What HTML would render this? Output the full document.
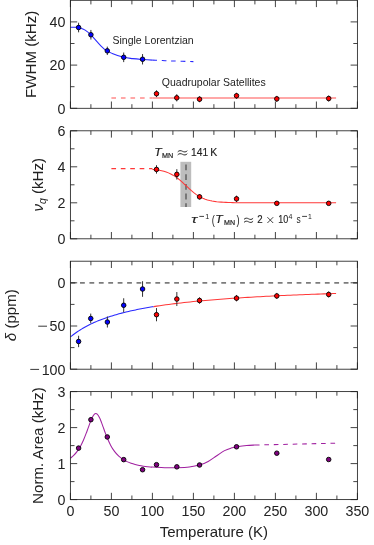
<!DOCTYPE html>
<html><head><meta charset="utf-8"><title>chart</title>
<style>html,body{margin:0;padding:0;background:#fff;}body{width:374px;height:545px;overflow:hidden;font-family:"Liberation Sans",sans-serif;}svg{display:block;}</style></head>
<body>
<svg width="374" height="545" viewBox="0 0 374 545">
<rect width="374" height="545" fill="#fff"/>
<g opacity="0.999">
<path d="M70.4 27.3C71.22 27.3 73.68 27.19 75.32 27.3C76.96 27.41 78.6 27.48 80.24 27.95C81.88 28.42 83.38 28.96 85.16 30.11C86.94 31.26 88.85 32.84 90.9 34.86C92.95 36.88 95.14 39.76 97.46 42.2C99.78 44.65 102.38 47.68 104.84 49.55C107.3 51.42 109.08 52.14 112.22 53.44C115.36 54.73 120.28 56.46 123.7 57.32C127.12 58.19 129.58 58.26 132.72 58.62C135.86 58.98 139.28 59.23 142.56 59.48C145.84 59.74 149.12 59.95 152.4 60.13" stroke="#2828ff" stroke-width="1.05" fill="none"/>
<path d="M152.4 60.13C155.68 60.31 158.82 60.42 162.24 60.56C165.66 60.71 167.71 60.82 172.9 61C178.09 61.18 189.98 61.54 193.4 61.64" stroke="#2828ff" stroke-width="1.05" fill="none" stroke-dasharray="4.65 4.77"/>
<path d="M111.4 97.89H152.4" stroke="#ff8a8a" stroke-width="1.5" fill="none" stroke-dasharray="4.6 4.95"/>
<path d="M152.4 97.89H336.08" stroke="#ff8a8a" stroke-width="1.5" fill="none"/>
<path d="M78.6 22.72V32.32M90.9 29.95V39.55M107.3 46.64V55.04M123.7 52.52V62.12M142.56 54.07V64.47" stroke="#333" stroke-width="1" fill="none"/>
<circle cx="78.6" cy="27.52" r="2.28" fill="#0000ff" stroke="#000" stroke-width="0.9"/>
<circle cx="90.9" cy="34.75" r="2.28" fill="#0000ff" stroke="#000" stroke-width="0.9"/>
<circle cx="107.3" cy="50.84" r="2.28" fill="#0000ff" stroke="#000" stroke-width="0.9"/>
<circle cx="123.7" cy="57.32" r="2.28" fill="#0000ff" stroke="#000" stroke-width="0.9"/>
<circle cx="142.56" cy="59.27" r="2.28" fill="#0000ff" stroke="#000" stroke-width="0.9"/>
<path d="M156.5 90.32V97.12M176.75 94.22V101.42M199.55 96.23V102.23M236.53 92.77V98.77M276.79 95.86V101.86M328.7 95.52V101.52" stroke="#333" stroke-width="1" fill="none"/>
<circle cx="156.5" cy="93.72" r="2.28" fill="#ff0000" stroke="#000" stroke-width="0.9"/>
<circle cx="176.75" cy="97.82" r="2.28" fill="#ff0000" stroke="#000" stroke-width="0.9"/>
<circle cx="199.55" cy="99.23" r="2.28" fill="#ff0000" stroke="#000" stroke-width="0.9"/>
<circle cx="236.53" cy="95.77" r="2.28" fill="#ff0000" stroke="#000" stroke-width="0.9"/>
<circle cx="276.79" cy="98.86" r="2.28" fill="#ff0000" stroke="#000" stroke-width="0.9"/>
<circle cx="328.7" cy="98.52" r="2.28" fill="#ff0000" stroke="#000" stroke-width="0.9"/>
<rect x="70.4" y="0.3" width="287" height="108" fill="none" stroke="#222222" stroke-width="0.85"/>
<path d="M70.4 108.3v-6.8M70.4 0.3v6.8M90.9 108.3v-4.1M90.9 0.3v4.1M111.4 108.3v-6.8M111.4 0.3v6.8M131.9 108.3v-4.1M131.9 0.3v4.1M152.4 108.3v-6.8M152.4 0.3v6.8M172.9 108.3v-4.1M172.9 0.3v4.1M193.4 108.3v-6.8M193.4 0.3v6.8M213.9 108.3v-4.1M213.9 0.3v4.1M234.4 108.3v-6.8M234.4 0.3v6.8M254.9 108.3v-4.1M254.9 0.3v4.1M275.4 108.3v-6.8M275.4 0.3v6.8M295.9 108.3v-4.1M295.9 0.3v4.1M316.4 108.3v-6.8M316.4 0.3v6.8M336.9 108.3v-4.1M336.9 0.3v4.1M357.4 108.3v-6.8M357.4 0.3v6.8M70.4 108.3h6.8M357.4 108.3h-6.8M70.4 65.1h6.8M357.4 65.1h-6.8M70.4 21.9h6.8M357.4 21.9h-6.8M70.4 86.7h4.1M357.4 86.7h-4.1M70.4 43.5h4.1M357.4 43.5h-4.1" stroke="#222222" stroke-width="0.85" fill="none"/>
<text transform="translate(65.5 113.65) scale(0.94 1)" text-anchor="end" font-size="15.2" font-family="Liberation Sans, sans-serif" fill="#222222">0</text>
<text transform="translate(65.5 70.45) scale(0.94 1)" text-anchor="end" font-size="15.2" font-family="Liberation Sans, sans-serif" fill="#222222">20</text>
<text transform="translate(65.5 27.25) scale(0.94 1)" text-anchor="end" font-size="15.2" font-family="Liberation Sans, sans-serif" fill="#222222">40</text>
<text transform="translate(36 54.3) rotate(-90)" text-anchor="middle" font-size="15.1" font-family="Liberation Sans, sans-serif" fill="#222222">FWHM (kHz)</text>
<text x="112.5" y="43.6" font-size="10.5" font-family="Liberation Sans, sans-serif" fill="#222222">Single Lorentzian</text>
<text x="161.8" y="85.9" font-size="10.5" font-family="Liberation Sans, sans-serif" fill="#222222">Quadrupolar Satellites</text>
<rect x="180.4" y="161.8" width="10.8" height="45.2" fill="#bdbdbd"/>
<path d="M186 164.5V207" stroke="#606060" stroke-width="1.5" fill="none" stroke-dasharray="5.8 3.9"/>
<path d="M111.4 168.6H152.4" stroke="#ff3838" stroke-width="1.05" fill="none" stroke-dasharray="4.65 4.77"/>
<path d="M152.4 169.4L154.7 169.63L156.99 169.92L159.29 170.28L161.58 170.74L163.88 171.31L166.18 172.01L168.47 172.88L170.77 173.92L173.06 175.17L175.36 176.63L177.66 178.29L179.95 180.16L182.25 182.18L184.54 184.3L186.84 186.48L189.14 188.62L191.43 190.68L193.73 192.59L196.02 194.32L198.32 195.84L200.62 197.14L202.91 198.24L205.21 199.16L207.5 199.91L209.8 200.51L212.1 201L214.39 201.39L216.69 201.7L218.98 201.94L221.28 202.13L223.58 202.28L225.87 202.39L228.17 202.48L230.46 202.55L232.76 202.61L235.06 202.65L237.35 202.68L239.65 202.71L241.94 202.73L244.24 202.75L246.54 202.76L248.83 202.77L251.13 202.77L253.42 202.78L255.72 202.78L258.02 202.79L260.31 202.79L262.61 202.79L264.9 202.79L267.2 202.8L269.5 202.8L271.79 202.8L274.09 202.8L276.38 202.8L278.68 202.8L280.98 202.8L283.27 202.8L285.57 202.8L287.86 202.8L290.16 202.8L292.46 202.8L294.75 202.8L297.05 202.8L299.34 202.8L301.64 202.8L303.94 202.8L306.23 202.8L308.53 202.8L310.82 202.8L313.12 202.8L315.42 202.8L317.71 202.8L320.01 202.8L322.3 202.8L324.6 202.8L326.9 202.8L329.19 202.8L331.49 202.8L333.78 202.8L336.08 202.8" stroke="#ff3838" stroke-width="1.05" fill="none"/>
<path d="M156.5 165.21V173.61M176.84 169.16V179.56M199.55 194.26V199.46M236.53 195.64V202.04" stroke="#333" stroke-width="1" fill="none"/>
<circle cx="156.5" cy="169.41" r="2.28" fill="#ff0000" stroke="#000" stroke-width="0.9"/>
<circle cx="176.84" cy="174.36" r="2.28" fill="#ff0000" stroke="#000" stroke-width="0.9"/>
<circle cx="199.55" cy="196.86" r="2.28" fill="#ff0000" stroke="#000" stroke-width="0.9"/>
<circle cx="236.53" cy="198.84" r="2.28" fill="#ff0000" stroke="#000" stroke-width="0.9"/>
<circle cx="276.79" cy="203.34" r="2.28" fill="#ff0000" stroke="#000" stroke-width="0.9"/>
<circle cx="328.7" cy="203.34" r="2.28" fill="#ff0000" stroke="#000" stroke-width="0.9"/>
<rect x="70.4" y="130.8" width="287" height="108" fill="none" stroke="#222222" stroke-width="0.85"/>
<path d="M70.4 238.8v-6.8M70.4 130.8v6.8M90.9 238.8v-4.1M90.9 130.8v4.1M111.4 238.8v-6.8M111.4 130.8v6.8M131.9 238.8v-4.1M131.9 130.8v4.1M152.4 238.8v-6.8M152.4 130.8v6.8M172.9 238.8v-4.1M172.9 130.8v4.1M193.4 238.8v-6.8M193.4 130.8v6.8M213.9 238.8v-4.1M213.9 130.8v4.1M234.4 238.8v-6.8M234.4 130.8v6.8M254.9 238.8v-4.1M254.9 130.8v4.1M275.4 238.8v-6.8M275.4 130.8v6.8M295.9 238.8v-4.1M295.9 130.8v4.1M316.4 238.8v-6.8M316.4 130.8v6.8M336.9 238.8v-4.1M336.9 130.8v4.1M357.4 238.8v-6.8M357.4 130.8v6.8M70.4 238.8h6.8M357.4 238.8h-6.8M70.4 202.8h6.8M357.4 202.8h-6.8M70.4 166.8h6.8M357.4 166.8h-6.8M70.4 130.8h6.8M357.4 130.8h-6.8M70.4 220.8h4.1M357.4 220.8h-4.1M70.4 184.8h4.1M357.4 184.8h-4.1M70.4 148.8h4.1M357.4 148.8h-4.1" stroke="#222222" stroke-width="0.85" fill="none"/>
<text transform="translate(65.5 244.15) scale(0.94 1)" text-anchor="end" font-size="15.2" font-family="Liberation Sans, sans-serif" fill="#222222">0</text>
<text transform="translate(65.5 208.15) scale(0.94 1)" text-anchor="end" font-size="15.2" font-family="Liberation Sans, sans-serif" fill="#222222">2</text>
<text transform="translate(65.5 172.15) scale(0.94 1)" text-anchor="end" font-size="15.2" font-family="Liberation Sans, sans-serif" fill="#222222">4</text>
<text transform="translate(65.5 136.15) scale(0.94 1)" text-anchor="end" font-size="15.2" font-family="Liberation Sans, sans-serif" fill="#222222">6</text>
<text transform="translate(42.7 184.8) rotate(-90)" text-anchor="middle" font-size="15.1" font-family="Liberation Sans, sans-serif" fill="#222222"><tspan font-style="italic">&#957;</tspan><tspan font-style="italic" font-size="10.5" dy="3">q</tspan><tspan dy="-3"> (kHz)</tspan></text>
<text x="154.2" y="155.8" font-size="11.3" font-family="Liberation Sans, sans-serif" fill="#222222" stroke="#222222" stroke-width="0.22" textLength="7.4" lengthAdjust="spacingAndGlyphs" font-style="italic">T</text>
<text x="161.9" y="157.5" font-size="8.0" font-family="Liberation Sans, sans-serif" fill="#222222" stroke="#222222" stroke-width="0.22" textLength="11.2" lengthAdjust="spacingAndGlyphs">MN</text>
<path d="M177.7 151.9C179.04 150.25 180.96 150.45 182.5 151.3S185.96 152.35 187.3 150.7M177.7 154.9C179.04 153.25 180.96 153.45 182.5 154.3S185.96 155.35 187.3 153.7" stroke="#222222" stroke-width="0.95" fill="none"/>
<text x="191.1" y="155.8" font-size="11.2" font-family="Liberation Sans, sans-serif" fill="#222222" stroke="#222222" stroke-width="0.15" textLength="17.1" lengthAdjust="spacingAndGlyphs">141</text>
<text x="210.2" y="155.8" font-size="11.2" font-family="Liberation Sans, sans-serif" fill="#222222" stroke="#222222" stroke-width="0.15" textLength="7" lengthAdjust="spacingAndGlyphs">K</text>
<text x="191.3" y="223.3" font-size="10.2" font-family="Liberation Sans, sans-serif" fill="#222222" stroke="#222222" stroke-width="0.12" textLength="6" lengthAdjust="spacingAndGlyphs" font-style="italic">&#964;</text>
<path d="M199.3 216.4H204" stroke="#222222" stroke-width="0.85" fill="none"/>
<text x="205.2" y="219.3" font-size="7.8" font-family="Liberation Sans, sans-serif" fill="#222222" textLength="4" lengthAdjust="spacingAndGlyphs">1</text>
<text x="211.7" y="223.6" font-size="12.2" font-family="Liberation Sans, sans-serif" fill="#222222" textLength="3.1" lengthAdjust="spacingAndGlyphs">(</text>
<text x="215.3" y="223.3" font-size="11.3" font-family="Liberation Sans, sans-serif" fill="#222222" stroke="#222222" stroke-width="0.22" textLength="7.4" lengthAdjust="spacingAndGlyphs" font-style="italic">T</text>
<text x="224" y="224.9" font-size="8.0" font-family="Liberation Sans, sans-serif" fill="#222222" stroke="#222222" stroke-width="0.22" textLength="11" lengthAdjust="spacingAndGlyphs">MN</text>
<text x="236.5" y="223.6" font-size="12.2" font-family="Liberation Sans, sans-serif" fill="#222222" textLength="3.1" lengthAdjust="spacingAndGlyphs">)</text>
<path d="M244 219.4C245.27 217.75 247.09 217.95 248.55 218.8S251.83 219.85 253.1 218.2M244 222.4C245.27 220.75 247.09 220.95 248.55 221.8S251.83 222.85 253.1 221.2" stroke="#222222" stroke-width="0.95" fill="none"/>
<text x="257.3" y="223.3" font-size="11.2" font-family="Liberation Sans, sans-serif" fill="#222222" stroke="#222222" stroke-width="0.15" textLength="5.4" lengthAdjust="spacingAndGlyphs">2</text>
<path d="M267.4 217.2L273.2 223M273.2 217.2L267.4 223" stroke="#222222" stroke-width="0.85" fill="none"/>
<text x="278.2" y="223.3" font-size="11.2" font-family="Liberation Sans, sans-serif" fill="#222222" stroke="#222222" stroke-width="0.15" textLength="10" lengthAdjust="spacingAndGlyphs">10</text>
<text x="288.4" y="218.7" font-size="8.0" font-family="Liberation Sans, sans-serif" fill="#222222" textLength="3.9" lengthAdjust="spacingAndGlyphs">4</text>
<text x="296.6" y="223.3" font-size="10.2" font-family="Liberation Sans, sans-serif" fill="#222222" textLength="4.2" lengthAdjust="spacingAndGlyphs">s</text>
<path d="M302.1 216.4H307" stroke="#222222" stroke-width="0.85" fill="none"/>
<text x="308" y="218.8" font-size="8.0" font-family="Liberation Sans, sans-serif" fill="#222222" textLength="3.8" lengthAdjust="spacingAndGlyphs">1</text>
<path d="M70.6 282.9H357.4" stroke="#7c7c7c" stroke-width="1.75" fill="none" stroke-dasharray="4.8 4.617"/>
<path d="M70.4 336.96L71.79 335.84L73.17 334.75L74.56 333.72L75.95 332.72L77.34 331.76L78.72 330.84L80.11 329.95L81.5 329.09L82.88 328.27L84.27 327.47L85.66 326.7L87.05 325.96L88.43 325.24L89.82 324.54L91.21 323.87L92.59 323.22L93.98 322.59L95.37 321.98L96.76 321.38L98.14 320.81L99.53 320.25L100.92 319.71L102.3 319.18L103.69 318.67L105.08 318.17L106.47 317.69L107.85 317.22L109.24 316.76L110.63 316.31L112.02 315.88L113.4 315.45L114.79 315.04L116.18 314.64L117.56 314.24L118.95 313.86L120.34 313.49L121.73 313.12L123.11 312.76L124.5 312.42L125.89 312.08L127.27 311.74L128.66 311.42L130.05 311.1L131.44 310.79L132.82 310.49L134.21 310.19L135.6 309.9L136.98 309.61L138.37 309.33L139.76 309.06L141.15 308.79L142.53 308.53L143.92 308.27L145.31 308.02L146.69 307.77L148.08 307.53L149.47 307.29L150.86 307.06L152.24 306.83L153.63 306.61" stroke="#2828ff" stroke-width="1.05" fill="none"/>
<path d="M153.63 306.61L156.67 306.13L159.71 305.67L162.75 305.23L165.79 304.8L168.83 304.4L171.88 304L174.92 303.62L177.96 303.26L181 302.9L184.04 302.56L187.08 302.23L190.12 301.91L193.16 301.6L196.2 301.3L199.24 301.01L202.28 300.73L205.32 300.46L208.37 300.2L211.41 299.94L214.45 299.69L217.49 299.45L220.53 299.21L223.57 298.98L226.61 298.76L229.65 298.55L232.69 298.34L235.73 298.13L238.77 297.93L241.81 297.74L244.85 297.55L247.9 297.36L250.94 297.18L253.98 297.01L257.02 296.84L260.06 296.67L263.1 296.5L266.14 296.34L269.18 296.19L272.22 296.04L275.26 295.89L278.3 295.74L281.35 295.6L284.39 295.46L287.43 295.32L290.47 295.19L293.51 295.06L296.55 294.93L299.59 294.81L302.63 294.68L305.67 294.56L308.71 294.45L311.75 294.33L314.79 294.22L317.83 294.11L320.88 294L323.92 293.89L326.96 293.79L330 293.68L333.04 293.58L336.08 293.48" stroke="#ff3838" stroke-width="1.05" fill="none"/>
<path d="M78.6 335.77V347.17M90.74 313.58V323.38M107.38 316.53V327.53M123.7 298.26V312.26M142.56 281.22V296.82" stroke="#333" stroke-width="1" fill="none"/>
<circle cx="78.6" cy="341.47" r="2.28" fill="#0000ff" stroke="#000" stroke-width="0.9"/>
<circle cx="90.74" cy="318.48" r="2.28" fill="#0000ff" stroke="#000" stroke-width="0.9"/>
<circle cx="107.38" cy="322.03" r="2.28" fill="#0000ff" stroke="#000" stroke-width="0.9"/>
<circle cx="123.7" cy="305.26" r="2.28" fill="#0000ff" stroke="#000" stroke-width="0.9"/>
<circle cx="142.56" cy="289.02" r="2.28" fill="#0000ff" stroke="#000" stroke-width="0.9"/>
<path d="M156.5 308.08V321.28M176.84 292.04V306.04M199.55 297.31V303.71M236.53 294.98V301.38M276.79 292.93V298.93M328.7 291.46V297.46" stroke="#333" stroke-width="1" fill="none"/>
<circle cx="156.5" cy="314.68" r="2.28" fill="#ff0000" stroke="#000" stroke-width="0.9"/>
<circle cx="176.84" cy="299.04" r="2.28" fill="#ff0000" stroke="#000" stroke-width="0.9"/>
<circle cx="199.55" cy="300.51" r="2.28" fill="#ff0000" stroke="#000" stroke-width="0.9"/>
<circle cx="236.53" cy="298.18" r="2.28" fill="#ff0000" stroke="#000" stroke-width="0.9"/>
<circle cx="276.79" cy="295.93" r="2.28" fill="#ff0000" stroke="#000" stroke-width="0.9"/>
<circle cx="328.7" cy="294.46" r="2.28" fill="#ff0000" stroke="#000" stroke-width="0.9"/>
<rect x="70.4" y="261.2" width="287" height="108" fill="none" stroke="#222222" stroke-width="0.85"/>
<path d="M70.4 369.2v-6.8M70.4 261.2v6.8M90.9 369.2v-4.1M90.9 261.2v4.1M111.4 369.2v-6.8M111.4 261.2v6.8M131.9 369.2v-4.1M131.9 261.2v4.1M152.4 369.2v-6.8M152.4 261.2v6.8M172.9 369.2v-4.1M172.9 261.2v4.1M193.4 369.2v-6.8M193.4 261.2v6.8M213.9 369.2v-4.1M213.9 261.2v4.1M234.4 369.2v-6.8M234.4 261.2v6.8M254.9 369.2v-4.1M254.9 261.2v4.1M275.4 369.2v-6.8M275.4 261.2v6.8M295.9 369.2v-4.1M295.9 261.2v4.1M316.4 369.2v-6.8M316.4 261.2v6.8M336.9 369.2v-4.1M336.9 261.2v4.1M357.4 369.2v-6.8M357.4 261.2v6.8M70.4 369.2h6.8M357.4 369.2h-6.8M70.4 326h6.8M357.4 326h-6.8M70.4 282.8h6.8M357.4 282.8h-6.8M70.4 347.6h4.1M357.4 347.6h-4.1M70.4 304.4h4.1M357.4 304.4h-4.1" stroke="#222222" stroke-width="0.85" fill="none"/>
<text transform="translate(65.5 288.15) scale(0.94 1)" text-anchor="end" font-size="15.2" font-family="Liberation Sans, sans-serif" fill="#222222">0</text>
<text transform="translate(65.5 331.35) scale(0.94 1)" text-anchor="end" font-size="15.2" font-family="Liberation Sans, sans-serif" fill="#222222">50</text>
<path d="M38.21 326.2H47.01" stroke="#222222" stroke-width="0.9" fill="none"/>
<text transform="translate(65.5 374.55) scale(0.94 1)" text-anchor="end" font-size="15.2" font-family="Liberation Sans, sans-serif" fill="#222222">100</text>
<path d="M30.27 369.4H39.07" stroke="#222222" stroke-width="0.9" fill="none"/>
<text transform="translate(15.8 315.2) rotate(-90)" text-anchor="middle" font-size="15.1" font-family="Liberation Sans, sans-serif" fill="#222222"><tspan font-style="italic">&#948;</tspan> (ppm)</text>
<path d="M70.4 458.24C70.95 457.77 72.59 456.53 73.68 455.43C74.77 454.34 75.87 453.15 76.96 451.68C78.05 450.22 79.15 448.6 80.24 446.66C81.33 444.71 82.43 442.51 83.52 440.01C84.61 437.52 85.98 433.85 86.8 431.7C87.62 429.55 87.89 428.65 88.44 427.13C88.99 425.62 89.53 424.05 90.08 422.62C90.63 421.19 91.17 419.76 91.72 418.56C92.27 417.37 92.81 416.25 93.36 415.45C93.91 414.64 94.45 414.03 95 413.74C95.55 413.46 96.09 413.46 96.64 413.74C97.19 414.03 97.73 414.64 98.28 415.45C98.83 416.25 99.37 417.37 99.92 418.56C100.47 419.76 101.01 421.19 101.56 422.62C102.11 424.05 102.65 425.62 103.2 427.13C103.75 428.65 104.29 430.21 104.84 431.7C105.39 433.18 105.52 433.8 106.48 436.04C107.44 438.29 109.21 442.55 110.58 445.16C111.95 447.76 113.31 449.84 114.68 451.68C116.05 453.53 117.41 454.93 118.78 456.21C120.15 457.49 121.51 458.47 122.88 459.37C124.25 460.28 125.61 460.98 126.98 461.62C128.35 462.27 129.71 462.79 131.08 463.27C132.45 463.74 133.81 464.13 135.18 464.49C136.55 464.85 137.91 465.15 139.28 465.42C140.65 465.7 142.01 465.93 143.38 466.15C144.75 466.36 146.11 466.55 147.48 466.72C148.85 466.89 150.76 467.13 151.58 467.18C152.4 467.23 150.21 466.93 152.4 467.02C154.59 467.11 160.6 467.62 164.7 467.74C168.8 467.86 172.9 467.86 177 467.74C181.1 467.62 185.47 467.5 189.3 467.02C193.13 466.54 196.82 465.79 199.96 464.86C203.1 463.93 205.43 462.91 208.16 461.44C210.89 459.97 213.63 457.84 216.36 456.04C219.09 454.24 222.1 451.96 224.56 450.64C227.02 449.32 228.8 448.81 231.12 448.12C233.44 447.43 235.9 446.93 238.5 446.5C241.1 446.07 243.97 445.77 246.7 445.53C249.43 445.29 253.53 445.14 254.9 445.06" stroke="#a020a0" stroke-width="1.05" fill="none"/>
<path d="M254.9 445.06L335.67 443.19" stroke="#a020a0" stroke-width="1.05" fill="none" stroke-dasharray="4.65 4.8"/>
<circle cx="78.6" cy="448.12" r="2.28" fill="#800080" stroke="#000" stroke-width="0.9"/>
<circle cx="90.9" cy="419.68" r="2.28" fill="#800080" stroke="#000" stroke-width="0.9"/>
<circle cx="107.3" cy="436.96" r="2.28" fill="#800080" stroke="#000" stroke-width="0.9"/>
<circle cx="123.7" cy="459.64" r="2.28" fill="#800080" stroke="#000" stroke-width="0.9"/>
<circle cx="142.56" cy="469.72" r="2.28" fill="#800080" stroke="#000" stroke-width="0.9"/>
<circle cx="156.5" cy="464.68" r="2.28" fill="#800080" stroke="#000" stroke-width="0.9"/>
<circle cx="176.84" cy="466.84" r="2.28" fill="#800080" stroke="#000" stroke-width="0.9"/>
<circle cx="199.55" cy="465" r="2.28" fill="#800080" stroke="#000" stroke-width="0.9"/>
<circle cx="236.53" cy="446.79" r="2.28" fill="#800080" stroke="#000" stroke-width="0.9"/>
<circle cx="276.79" cy="453.2" r="2.28" fill="#800080" stroke="#000" stroke-width="0.9"/>
<circle cx="328.7" cy="459.5" r="2.28" fill="#800080" stroke="#000" stroke-width="0.9"/>
<rect x="70.4" y="391.6" width="287" height="108" fill="none" stroke="#222222" stroke-width="0.85"/>
<path d="M70.4 499.6v-6.8M70.4 391.6v6.8M90.9 499.6v-4.1M90.9 391.6v4.1M111.4 499.6v-6.8M111.4 391.6v6.8M131.9 499.6v-4.1M131.9 391.6v4.1M152.4 499.6v-6.8M152.4 391.6v6.8M172.9 499.6v-4.1M172.9 391.6v4.1M193.4 499.6v-6.8M193.4 391.6v6.8M213.9 499.6v-4.1M213.9 391.6v4.1M234.4 499.6v-6.8M234.4 391.6v6.8M254.9 499.6v-4.1M254.9 391.6v4.1M275.4 499.6v-6.8M275.4 391.6v6.8M295.9 499.6v-4.1M295.9 391.6v4.1M316.4 499.6v-6.8M316.4 391.6v6.8M336.9 499.6v-4.1M336.9 391.6v4.1M357.4 499.6v-6.8M357.4 391.6v6.8M70.4 499.6h6.8M357.4 499.6h-6.8M70.4 463.6h6.8M357.4 463.6h-6.8M70.4 427.6h6.8M357.4 427.6h-6.8M70.4 391.6h6.8M357.4 391.6h-6.8M70.4 481.6h4.1M357.4 481.6h-4.1M70.4 445.6h4.1M357.4 445.6h-4.1M70.4 409.6h4.1M357.4 409.6h-4.1" stroke="#222222" stroke-width="0.85" fill="none"/>
<text transform="translate(65.5 504.95) scale(0.94 1)" text-anchor="end" font-size="15.2" font-family="Liberation Sans, sans-serif" fill="#222222">0</text>
<text transform="translate(65.5 468.95) scale(0.94 1)" text-anchor="end" font-size="15.2" font-family="Liberation Sans, sans-serif" fill="#222222">1</text>
<text transform="translate(65.5 432.95) scale(0.94 1)" text-anchor="end" font-size="15.2" font-family="Liberation Sans, sans-serif" fill="#222222">2</text>
<text transform="translate(65.5 396.95) scale(0.94 1)" text-anchor="end" font-size="15.2" font-family="Liberation Sans, sans-serif" fill="#222222">3</text>
<text transform="translate(43.3 445.6) rotate(-90)" text-anchor="middle" font-size="15.1" font-family="Liberation Sans, sans-serif" fill="#222222">Norm. Area (kHz)</text>
<text transform="translate(70.4 516.2) scale(0.94 1)" text-anchor="middle" font-size="15.2" font-family="Liberation Sans, sans-serif" fill="#222222">0</text>
<text transform="translate(111.4 516.2) scale(0.94 1)" text-anchor="middle" font-size="15.2" font-family="Liberation Sans, sans-serif" fill="#222222">50</text>
<text transform="translate(152.4 516.2) scale(0.94 1)" text-anchor="middle" font-size="15.2" font-family="Liberation Sans, sans-serif" fill="#222222">100</text>
<text transform="translate(193.4 516.2) scale(0.94 1)" text-anchor="middle" font-size="15.2" font-family="Liberation Sans, sans-serif" fill="#222222">150</text>
<text transform="translate(234.4 516.2) scale(0.94 1)" text-anchor="middle" font-size="15.2" font-family="Liberation Sans, sans-serif" fill="#222222">200</text>
<text transform="translate(275.4 516.2) scale(0.94 1)" text-anchor="middle" font-size="15.2" font-family="Liberation Sans, sans-serif" fill="#222222">250</text>
<text transform="translate(316.4 516.2) scale(0.94 1)" text-anchor="middle" font-size="15.2" font-family="Liberation Sans, sans-serif" fill="#222222">300</text>
<text transform="translate(357.4 516.2) scale(0.94 1)" text-anchor="middle" font-size="15.2" font-family="Liberation Sans, sans-serif" fill="#222222">350</text>
<text x="213.9" y="536.8" text-anchor="middle" font-size="15" font-family="Liberation Sans, sans-serif" fill="#222222">Temperature (K)</text>
</g>
</svg>
</body></html>
